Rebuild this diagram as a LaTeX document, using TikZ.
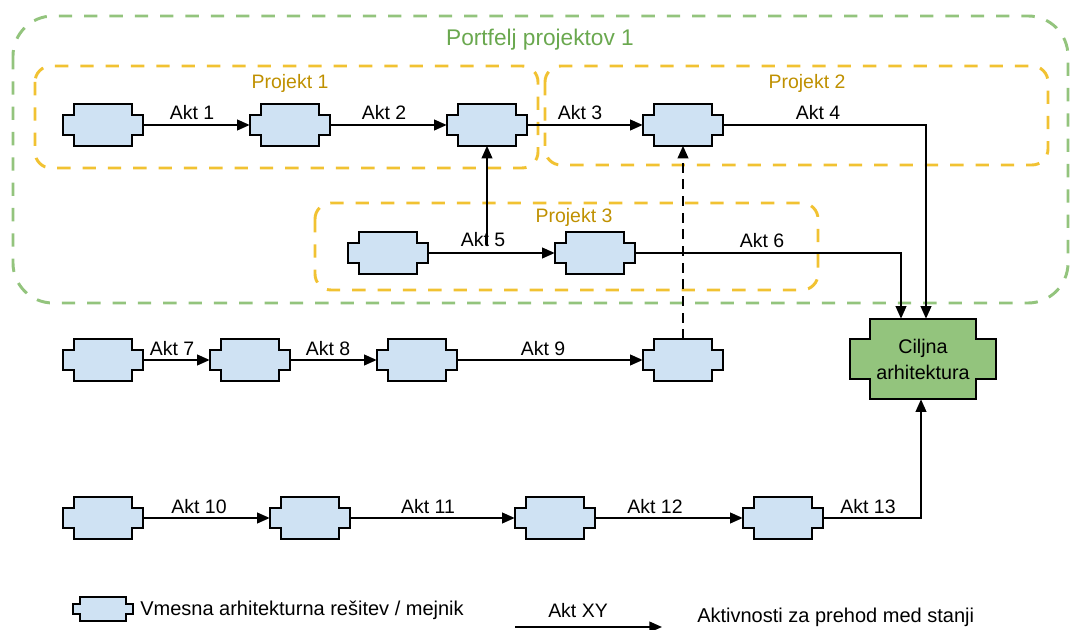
\documentclass[tikz,border=0pt]{standalone}
\usepackage{fontspec}
\setmainfont{Liberation Sans}
\usetikzlibrary{arrows.meta,calc}

\definecolor{statefill}{HTML}{CFE2F3}
\definecolor{goalfill}{HTML}{93C47D}
\definecolor{portline}{HTML}{93C47D}
\definecolor{porttext}{HTML}{6AA84F}
\definecolor{projline}{HTML}{F1C232}
\definecolor{projtext}{HTML}{BF9000}

\pgfdeclarelayer{frames}
\pgfdeclarelayer{shapes}
\pgfsetlayers{frames,shapes,main}

% notched outline round a node: #1 node, #2 notch size, #3 style
\newcommand\notchoutline[3]{%
  \begin{pgfonlayer}{shapes}
  \draw[#3] ([xshift=#2]#1.north west) -- ([xshift=-#2]#1.north east)
    -- ([xshift=-#2,yshift=-#2]#1.north east) -- ([yshift=-#2]#1.north east)
    -- ([yshift=#2]#1.south east) -- ([xshift=-#2,yshift=#2]#1.south east)
    -- ([xshift=-#2]#1.south east) -- ([xshift=#2]#1.south west)
    -- ([xshift=#2,yshift=#2]#1.south west) -- ([yshift=#2]#1.south west)
    -- ([yshift=-#2]#1.north west) -- ([xshift=#2,yshift=-#2]#1.north west)
    -- cycle;
  \end{pgfonlayer}}

\tikzset{
  state/.style={rectangle, minimum width=60pt, minimum height=30.75pt, inner sep=0pt},
  goal/.style={rectangle, minimum width=108.75pt, minimum height=60pt, inner sep=0pt,
    align=center, font=\fontsize{14.8pt}{19.5pt}\selectfont},
  keystate/.style={rectangle, minimum width=45pt, minimum height=17.25pt, inner sep=0pt},
  outline/.style={draw=black, line width=1.7pt, fill=statefill, line join=miter},
  goaloutline/.style={outline, fill=goalfill},
  flow/.style={draw=black, line width=1.5pt, -{Triangle[length=9.5pt,width=8pt]}},
  plan/.style={flow, dash pattern=on 7.5pt off 5pt},
  actlabel/.style={font=\fontsize{14.6pt}{17pt}\selectfont, inner sep=0pt},
  portfolio/.style={draw=portline, line width=2.2pt, dash pattern=on 10pt off 9pt, rounded corners=30pt},
  project/.style={draw=projline, line width=2.2pt, dash pattern=on 10pt off 9pt, rounded corners=12pt},
  porttitle/.style={text=porttext, inner sep=0pt, font=\fontsize{17pt}{20pt}\selectfont},
  projtitle/.style={text=projtext, inner sep=0pt, font=\fontsize{14.6pt}{17pt}\selectfont},
  keytext/.style={font=\fontsize{15pt}{17pt}\selectfont, anchor=west, inner sep=0pt},
}

\begin{document}
\begin{tikzpicture}[x=0.75pt, y=-0.75pt]
\useasboundingbox (0,0) rectangle (1072,630);

% portfolio and project frames
\begin{pgfonlayer}{frames}
  \draw[portfolio] (13,16) rectangle (1068,303);
  \draw[project] (35,66) rectangle (538,168);
  \draw[project] (545,66) rectangle (1048,165);
  \draw[project] (315,203) rectangle (818,290);
\end{pgfonlayer}
\node[porttitle] (portname) at (540,40) {Portfelj projektov 1};
\node[projtitle] (p1name) at (290,83) {Projekt 1};
\node[projtitle] (p2name) at (807,83) {Projekt 2};
\node[projtitle] (p3name) at (574,217) {Projekt 3};

% intermediate states
\node[state] (s1) at (103,125) {};
\node[state] (s2) at (290,125) {};
\node[state] (s3) at (487,125) {};
\node[state] (s4) at (683,125) {};
\node[state] (s5) at (388,253) {};
\node[state] (s6) at (595,253) {};
\node[state] (s7) at (103,360) {};
\node[state] (s8) at (250,360) {};
\node[state] (s9) at (417,360) {};
\node[state] (s10) at (683,360) {};
\node[state] (s11) at (103,518) {};
\node[state] (s12) at (310,518) {};
\node[state] (s13) at (555,518) {};
\node[state] (s14) at (783,518) {};
\node[goal] (goal) at (923,359) {Ciljna\\arhitektura};
\node[keystate] (key) at (103,609) {};

\foreach \n in {s1,s2,s3,s4,s5,s6,s7,s8,s9,s10,s11,s12,s13,s14}
  {\notchoutline{\n}{8.25pt}{outline}}
\notchoutline{goal}{15pt}{goaloutline}
\notchoutline{key}{5.25pt}{outline}

% activities
\draw[flow] (s1) -- (s2);
\draw[flow] (s2) -- (s3);
\draw[flow] (s3) -- (s4);
\draw[flow] (s4.east) -| ($(goal.north)+(3,0)$);
\draw[flow] (s5) -- (s6);
\coordinate (fork) at (487,245);
\draw[flow] (fork) -- (s3.south);
\draw[flow] (s6.east) -| ($(goal.north)+(-22,0)$);
\draw[flow] (s7) -- (s8);
\draw[flow] (s8) -- (s9);
\draw[flow] (s9) -- (s10);
\draw[plan] (s10.north) -- (s4.south);
\draw[flow] (s11) -- (s12);
\draw[flow] (s12) -- (s13);
\draw[flow] (s13) -- (s14);
\draw[flow] (s14.east) -| ($(goal.south)+(-2,0)$);

\node[actlabel] (a1) at (192,113) {Akt 1};
\node[actlabel] (a2) at (384,113) {Akt 2};
\node[actlabel] (a3) at (580,113) {Akt 3};
\node[actlabel] (a4) at (818,113) {Akt 4};
\node[actlabel] (a5) at (483,240) {Akt 5};
\node[actlabel] (a6) at (762,241) {Akt 6};
\node[actlabel] (a7) at (172,349) {Akt 7};
\node[actlabel] (a8) at (328,349) {Akt 8};
\node[actlabel] (a9) at (543,349) {Akt 9};
\node[actlabel] (a10) at (199,507) {Akt 10};
\node[actlabel] (a11) at (428,507) {Akt 11};
\node[actlabel] (a12) at (655,507) {Akt 12};
\node[actlabel] (a13) at (868,507) {Akt 13};

% legend
\node[keytext] (keystatetext) at (140,610) {Vmesna arhitekturna rešitev / mejnik};
\coordinate (keyfrom) at (515,627);
\coordinate (keyto) at (662,627);
\draw[flow] (keyfrom) -- (keyto);
\node[actlabel] (keyact) at (578,611) {Akt XY};
\node[keytext] (keyflowtext) at (697,617) {Aktivnosti za prehod med stanji};
\end{tikzpicture}
\end{document}
